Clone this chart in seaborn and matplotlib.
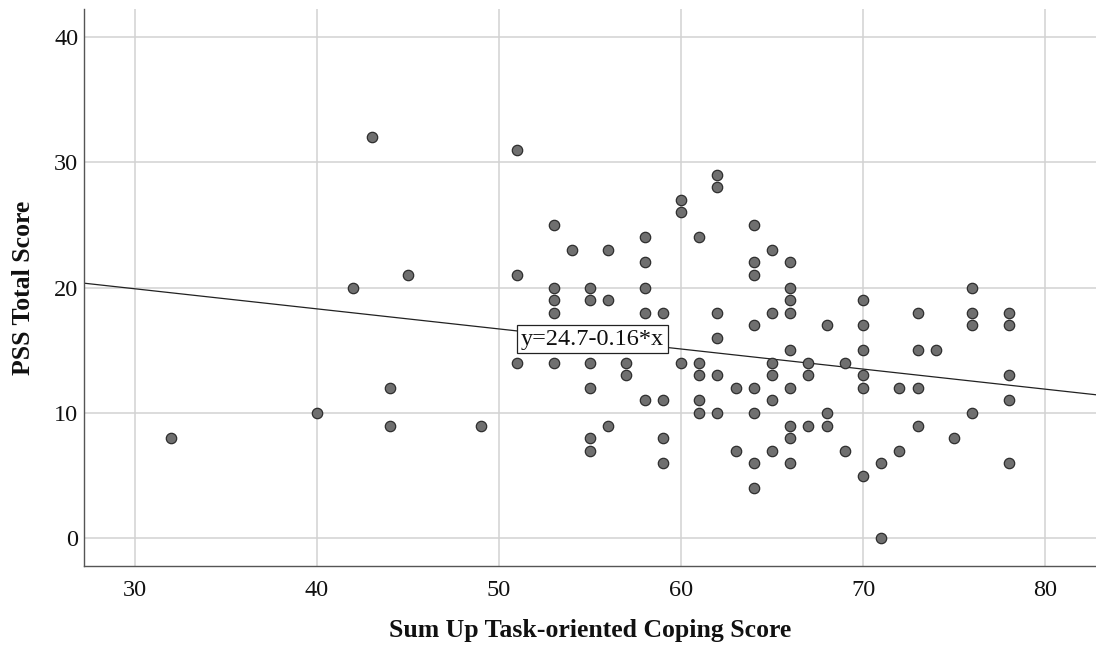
import matplotlib
matplotlib.use("Agg")
import matplotlib.pyplot as plt
import seaborn as sns
import pandas as pd

# ---- data ----
coping = [32, 40, 42, 43, 44, 44, 45, 49, 51, 51, 51,
          53, 53, 53, 53, 53, 54, 55, 55, 55, 55, 55, 55,
          56, 56, 56, 57, 57, 58, 58, 58, 58, 58, 59, 59, 59, 59,
          60, 60, 60, 61, 61, 61, 61, 61, 62, 62, 62, 62, 62, 62,
          63, 63, 64, 64, 64, 64, 64, 64, 64, 64,
          65, 65, 65, 65, 65, 65, 66, 66, 66, 66, 66, 66, 66, 66, 66,
          67, 67, 67, 68, 68, 68, 69, 69, 70, 70, 70, 70, 70, 70,
          71, 71, 72, 72, 73, 73, 73, 73, 74, 75, 76, 76, 76, 76,
          78, 78, 78, 78, 78]
pss = [8, 10, 20, 32, 12, 9, 21, 9, 31, 21, 14,
       25, 20, 19, 18, 14, 23, 20, 19, 14, 12, 8, 7,
       23, 19, 9, 14, 13, 24, 22, 20, 18, 11, 18, 11, 8, 6,
       27, 26, 14, 24, 14, 13, 11, 10, 29, 28, 18, 16, 13, 10,
       12, 7, 25, 22, 21, 17, 12, 10, 6, 4,
       23, 18, 14, 13, 11, 7, 22, 20, 19, 18, 15, 12, 9, 8, 6,
       14, 13, 9, 17, 10, 9, 14, 7, 19, 17, 15, 13, 12, 5,
       6, 0, 12, 7, 18, 15, 12, 9, 15, 8, 20, 18, 17, 10,
       18, 17, 13, 11, 6]

intercept = 24.7
slope = -0.16
fit_label = "y=24.7-0.16*x"
label_x = 55.13

x_ticks = [30, 40, 50, 60, 70, 80]
y_ticks = [0, 10, 20, 30, 40]
x_title = "Sum Up Task-oriented Coping Score"
y_title = "PSS Total Score"

df = pd.DataFrame({"coping": coping, "pss": pss})

sns.set_style("white")
plt.rcParams["font.family"] = ["Liberation Serif", "DejaVu Serif"]

fig = plt.figure(figsize=(10.96, 6.46), dpi=100)
ax = fig.add_axes([0.0766, 0.1238, 0.9234, 0.8622])

ax.set_xlim(27.2, 82.8)
ax.set_ylim(-2.2, 42.2)
ax.set_xticks(x_ticks)
ax.set_yticks(y_ticks)
ax.grid(True, color="#d2d2d2", linewidth=1.1)
ax.set_axisbelow(True)

ax.axline((0, intercept), slope=slope, color="#222222", linewidth=0.9, zorder=2)

sns.scatterplot(data=df, x="coping", y="pss", ax=ax, s=56,
                color="#6f6f6f", edgecolor="#2e2e2e", linewidth=0.9, zorder=3)

ax.text(label_x, intercept + slope * label_x, fit_label, fontsize=17.5,
        ha="center", va="center", zorder=4, color="#111111",
        bbox=dict(boxstyle="square,pad=0.15", fc="white", ec="#222222", lw=0.9))

for side in ["top", "right"]:
    ax.spines[side].set_visible(False)
for side in ["left", "bottom"]:
    ax.spines[side].set_color("#555555")
    ax.spines[side].set_linewidth(1.0)

ax.tick_params(axis="x", length=0, pad=10, labelsize=17.5, colors="#111111")
ax.tick_params(axis="y", length=3, direction="in", pad=4, labelsize=17.5,
               color="#555555", labelcolor="#111111")

ax.set_xlabel(x_title, fontsize=18.5, fontweight="bold", labelpad=13, color="#111111")
ax.set_ylabel(y_title, fontsize=18.5, fontweight="bold", labelpad=14, color="#111111")

fig.savefig("out.png", dpi=100)
